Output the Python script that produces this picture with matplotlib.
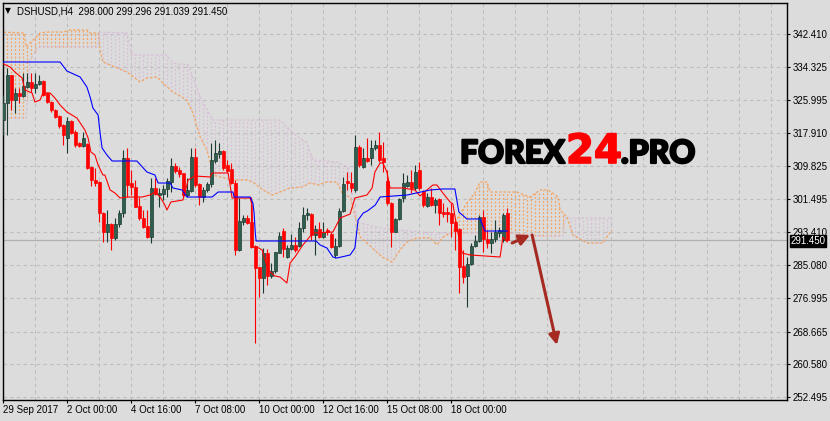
"""DSHUSD H4 candles with Ichimoku lines, MT4 style."""

import numpy as np
import matplotlib
matplotlib.use("Agg")
from matplotlib import pyplot as plt
from matplotlib import patheffects
from matplotlib.transforms import blended_transform_factory

plt.rcParams['font.family'] = ['Liberation Sans', 'DejaVu Sans']

# ---- candles (bar index 0 .. 126), prices ----
opens = [321.11, 325.32, 332.25, 326.06, 327.79, 327.05, 329.28, 330.52, 329.03, 330.02,
         330.77, 327.79, 325.56, 323.58, 322.10, 319.87, 316.65, 320.86, 318.13, 315.41,
         314.67, 315.16, 309.47, 306.25, 305.75, 298.07, 293.36, 295.35, 291.88, 295.35,
         298.07, 311.70, 305.50, 304.51, 299.80, 296.83, 294.85, 292.13, 304.26, 302.53,
         302.78, 304.02, 305.75, 309.71, 308.72, 307.98, 302.53, 303.52, 311.94, 305.25,
         302.03, 303.77, 305.25, 310.95, 312.69, 313.43, 309.96, 308.97, 305.50, 288.91,
         295.84, 296.83, 295.84, 289.90, 284.69, 281.97, 288.16, 282.46, 283.70, 288.16,
         293.61, 287.17, 289.15, 290.15, 289.90, 294.36, 297.57, 297.82, 292.62, 294.11,
         292.13, 293.86, 292.87, 287.67, 289.90, 298.56, 306.00, 305.50, 303.77, 314.42,
         309.47, 311.70, 311.70, 314.17, 314.91, 311.70, 306.00, 300.55, 293.36, 296.59,
         301.78, 304.76, 305.75, 304.26, 308.72, 303.27, 299.80, 302.03, 300.05, 301.54,
         298.32, 298.32, 298.07, 295.84, 294.11, 284.94, 282.46, 285.44, 289.90, 291.14,
         297.08, 291.63, 290.64, 291.63, 293.12, 291.38, 298.000]
highs = [327.30, 333.99, 332.25, 329.03, 329.03, 332.75, 332.75, 332.75, 332.75, 332.25,
         331.01, 328.04, 325.81, 323.83, 322.34, 320.12, 321.85, 321.11, 318.63, 315.66,
         318.13, 315.41, 309.71, 309.22, 306.00, 298.32, 298.81, 295.59, 296.83, 298.81,
         313.68, 314.17, 308.72, 306.25, 302.03, 298.81, 298.81, 306.74, 306.74, 304.26,
         305.01, 306.74, 311.70, 310.45, 309.47, 307.98, 306.74, 314.17, 314.17, 305.50,
         304.51, 305.75, 315.41, 316.15, 315.41, 313.68, 311.20, 310.45, 306.25, 301.78,
         297.57, 297.57, 302.03, 290.15, 284.69, 289.40, 289.15, 285.68, 288.41, 293.36,
         294.36, 290.15, 292.87, 292.13, 295.84, 299.56, 299.31, 298.07, 295.10, 295.84,
         295.84, 294.36, 293.36, 291.88, 299.31, 306.99, 308.23, 308.23, 317.39, 314.91,
         314.17, 316.65, 316.15, 316.15, 318.13, 315.66, 308.72, 300.79, 296.83, 301.78,
         307.98, 307.48, 308.72, 309.96, 310.70, 303.77, 303.02, 304.26, 301.78, 301.78,
         300.55, 299.56, 300.55, 296.34, 294.36, 288.91, 287.17, 290.64, 292.62, 297.57,
         298.81, 293.86, 293.36, 296.34, 294.60, 298.07, 299.296]
lows = [317.39, 317.39, 323.58, 322.84, 325.32, 326.80, 329.03, 328.04, 327.79, 329.78,
        327.05, 325.32, 323.09, 321.60, 319.12, 314.91, 312.93, 317.64, 314.42, 314.42,
        314.42, 308.97, 304.76, 304.76, 295.84, 290.89, 290.89, 288.91, 291.38, 294.60,
        297.08, 302.03, 302.53, 299.56, 296.34, 294.36, 291.88, 290.64, 302.53, 299.56,
        301.29, 302.03, 303.27, 307.98, 306.99, 302.03, 302.03, 303.27, 304.51, 300.05,
        300.79, 303.27, 304.51, 310.45, 311.70, 308.72, 308.23, 305.25, 287.67, 288.66,
        295.10, 295.35, 289.40, 265.87, 277.26, 278.25, 280.24, 281.97, 283.21, 288.16,
        287.17, 286.92, 288.91, 288.41, 289.65, 293.36, 296.34, 291.38, 287.67, 291.88,
        291.88, 292.62, 289.40, 286.92, 289.65, 298.32, 303.77, 303.27, 303.27, 309.47,
        309.22, 310.70, 309.96, 313.68, 310.70, 308.23, 300.05, 289.65, 293.36, 296.34,
        300.79, 304.51, 303.02, 303.77, 303.77, 299.56, 299.56, 299.80, 298.07, 295.10,
        297.08, 295.84, 292.13, 288.91, 278.25, 280.73, 274.79, 285.19, 289.65, 290.89,
        288.41, 289.40, 288.16, 290.89, 292.13, 290.89, 291.039]
closes = [325.32, 332.25, 326.06, 327.79, 327.05, 329.53, 330.52, 329.03, 330.02, 330.77,
          327.30, 325.56, 323.58, 321.85, 319.62, 317.39, 320.86, 317.89, 314.91, 314.67,
          316.65, 309.22, 306.25, 305.50, 298.07, 293.36, 295.35, 291.88, 295.35, 298.07,
          311.70, 305.01, 304.51, 299.56, 296.83, 294.60, 292.13, 304.26, 302.78, 303.02,
          304.02, 306.00, 309.71, 308.47, 307.73, 302.53, 303.77, 311.94, 305.01, 302.03,
          303.77, 305.25, 311.20, 312.93, 313.43, 309.22, 308.47, 305.50, 288.91, 296.09,
          296.83, 295.59, 289.65, 284.45, 281.97, 288.16, 282.46, 283.70, 288.41, 292.37,
          289.15, 289.40, 290.15, 288.91, 294.36, 297.57, 298.07, 292.62, 294.11, 292.13,
          293.36, 293.36, 289.65, 289.90, 298.56, 305.25, 305.50, 304.26, 314.42, 309.96,
          311.70, 310.95, 314.17, 314.91, 311.20, 310.70, 300.55, 293.36, 296.59, 301.54,
          305.50, 305.75, 304.26, 308.23, 304.26, 300.05, 302.03, 300.05, 301.29, 298.07,
          297.82, 297.82, 295.59, 293.61, 284.69, 282.22, 285.44, 289.90, 291.14, 297.08,
          291.63, 290.64, 291.63, 293.36, 293.86, 297.57, 291.450]

# ---- Ichimoku lines, breakpoints (bar index, price) ----
tenkan_x = [-1, 1.7, 2.9, 4.7, 5.4, 7.2, 7.9, 9.2, 9.9, 11.7, 12.9, 14.2, 15.9, 18.4, 20.4,
            21.2, 21.9, 22.9, 23.7, 24.9, 25.4, 26.7, 27.9, 29.2, 30.9, 34.7, 36.7, 37.9,
            39.2, 40.4, 40.9, 41.9, 44.9, 45.4, 46.2, 47.9, 51.7, 52.2, 56.2, 56.7, 57.2,
            61.7, 62.2, 62.4, 63.4, 64.7, 66.2, 67.9, 69.2, 70.9, 71.7, 72.9, 74.9, 77.4,
            82.4, 84.2, 86.7, 87.9, 90.9, 92.2, 92.9, 94.2, 94.9, 95.9, 96.7, 99.9, 102.9,
            104.2, 105.9, 107.4, 108.4, 109.9, 111.7, 112.4, 113.4, 114.7, 116.7, 124.2,
            124.9, 126]
tenkan_y = [335.47, 334.23, 332.99, 331.51, 328.54, 327.79, 325.56, 326.06, 327.79, 327.79,
            326.56, 324.82, 323.09, 321.60, 318.63, 316.65, 313.18, 312.44, 309.96, 307.48,
            307.48, 303.77, 303.02, 301.78, 302.03, 302.03, 302.53, 303.27, 302.03, 300.05,
            298.81, 300.79, 301.29, 303.02, 306.25, 307.23, 306.99, 307.98, 307.98, 305.01,
            301.78, 301.78, 300.05, 289.65, 289.65, 288.91, 283.95, 282.46, 282.22, 280.73,
            285.68, 287.17, 290.15, 293.12, 293.36, 296.83, 297.82, 301.78, 302.53, 304.26,
            308.23, 310.45, 310.45, 308.23, 304.26, 304.26, 303.77, 302.28, 303.77, 305.01,
            305.01, 303.02, 300.79, 300.30, 294.36, 288.16, 287.67, 287.17, 292.13, 290.89]
kijun_x = [-1, 14.2, 15.9, 19.2, 20.9, 21.7, 22.4, 23.7, 24.2, 24.7, 25.9, 27.2, 33.4, 35.9,
           37.9, 38.7, 41.7, 42.4, 44.7, 45.9, 52.2, 53.7, 57.4, 57.7, 61.7, 62.4, 62.7,
           63.0, 63.2, 78.2, 79.2, 80.9, 82.4, 83.4, 86.7, 87.9, 88.7, 90.0, 91.0, 93.0,
           94.2, 101.0, 106.7, 109.9, 112.9, 113.9, 115.9, 119.2, 120.4, 126]
kijun_y = [335.47, 335.47, 333.24, 331.76, 329.28, 326.80, 324.08, 322.34, 317.89, 314.17,
           312.44, 310.95, 310.95, 308.23, 307.48, 305.50, 305.50, 304.26, 303.77, 302.03,
           302.03, 303.27, 303.27, 302.03, 302.03, 300.55, 298.07, 293.12, 291.14, 291.14,
           290.15, 289.40, 287.17, 286.92, 287.67, 289.40, 296.34, 298.07, 298.56, 300.05,
           302.03, 302.53, 303.77, 304.02, 304.02, 298.32, 296.59, 296.59, 293.61, 293.61]
span_a_x = [-1, 5.2, 5.7, 9.2, 10.9, 14.9, 16.7, 20.9, 21.7, 23.7, 24.2, 24.9, 30.9, 34.2,
            35.9, 38.4, 39.9, 42.4, 45.9, 47.4, 49.2, 50.9, 51.7, 52.4, 54.2, 57.4, 60.9,
            62.4, 64.9, 67.2, 69.2, 71.7, 74.7, 76.7, 78.7, 80.9, 83.4, 84.9, 86.7, 87.9,
            89.2, 90.9, 94.7, 97.2, 99.2, 100.9, 103.4, 106.7, 108.4, 109.7, 111.2, 112.4,
            113.7, 115.9, 117.9, 119.2, 120.9, 121.7, 126.7, 128.4, 131.7, 134.2, 136.2,
            138.7, 139.2, 140.9, 142.4, 145.9, 149.9, 150.9, 152.2]
span_a_y = [342.90, 342.66, 339.19, 342.66, 342.90, 342.90, 343.40, 343.40, 342.66, 342.66,
            338.45, 335.47, 332.99, 330.52, 331.51, 331.76, 330.27, 328.04, 326.06, 322.84,
            316.90, 313.68, 310.70, 307.48, 306.99, 306.25, 306.25, 305.75, 303.77, 302.53,
            303.27, 304.26, 304.51, 305.50, 305.01, 305.75, 305.75, 302.53, 302.03, 297.57,
            292.13, 290.64, 287.17, 285.93, 288.91, 290.89, 291.88, 291.88, 290.15, 291.88,
            292.87, 293.12, 297.08, 300.55, 303.02, 305.75, 305.75, 303.27, 303.27, 303.27,
            302.03, 303.77, 303.77, 302.03, 298.81, 297.08, 292.62, 290.64, 290.64, 292.13,
            293.86]
span_b_x = [-1, 5.7, 6.7, 8.7, 23.7, 24.0, 30.9, 32.2, 40.9, 42.4, 46.2, 49.2, 52.4, 69.2,
            72.4, 75.9, 77.4, 83.4, 86.2, 88.4, 94.2, 104.2, 112.4, 125.9, 134.2, 139.9,
            140.4, 152.2]
span_b_y = [321.60, 321.60, 335.97, 339.19, 339.19, 342.90, 342.66, 337.21, 337.21, 335.22,
            334.73, 326.80, 321.11, 321.11, 317.89, 315.41, 311.20, 310.70, 309.47, 295.84,
            294.36, 293.36, 293.12, 293.12, 292.37, 292.37, 296.83, 296.83]

# ---- axis labels ----
price_ticks = [342.410, 334.325, 325.995, 317.910, 309.825, 301.495,
               293.410, 285.080, 276.995, 268.665, 260.580, 252.495]
date_ticks = [0, 16, 32, 48, 64, 80, 96, 112]
date_labels = ['29 Sep 2017', '2 Oct 00:00', '4 Oct 16:00', '7 Oct 08:00',
               '10 Oct 00:00', '12 Oct 16:00', '15 Oct 08:00', '18 Oct 00:00']
last_price = 291.450
header = 'DSHUSD,H4  298.000 299.296 291.039 291.450'

BG = '#dcdcdc'
BULL = '#2f5f4f'
BULL_EDGE = '#1d3a31'
BEAR = '#ff0000'
SANDY = '#f4a460'
THISTLE = '#d8bfd8'

W, H = 830, 421
fig = plt.figure(figsize=(W / 100, H / 100), dpi=100, facecolor=BG)
ax = fig.add_axes([2.7 / W, 21 / H, 784.6 / W, 397.3 / H], facecolor=BG)
ax.set_xlim(-0.15, 196.0)
ax.set_ylim(251.75, 350.16)

# grid
for gx in range(8, 196, 8):
    ax.axvline(gx, color='#bdbdbd', lw=0.8, ls=(0, (3, 3)), zorder=0.5)
for gy in price_ticks:
    ax.axhline(gy, color='#bdbdbd', lw=0.8, ls=(0, (3, 3)), zorder=0.5)
ax.axhline(last_price, color='#b0b0b0', lw=0.9, zorder=0.6)

# cloud: dotted vertical strokes for each bar, colour by which span is on top
cloud_bars = np.arange(0, 153)
a_vals = np.interp(cloud_bars, span_a_x, span_a_y)
b_vals = np.interp(cloud_bars, span_b_x, span_b_y)
up = a_vals >= b_vals
ax.vlines(cloud_bars[up], b_vals[up], a_vals[up], colors=SANDY, lw=0.9,
          linestyles=(0, (1.5, 1.5)), zorder=1)
ax.vlines(cloud_bars[~up], a_vals[~up], b_vals[~up], colors=THISTLE, lw=0.9,
          linestyles=(0, (1.5, 1.5)), zorder=1)
ax.plot(span_a_x, span_a_y, color=SANDY, lw=0.9, ls=(0, (2, 1.5)), zorder=1.2)
ax.plot(span_b_x, span_b_y, color=THISTLE, lw=0.9, ls=(0, (2, 1.5)), zorder=1.2)

# candles
o = np.array(opens)
h = np.array(highs)
l = np.array(lows)
c = np.array(closes)
idx = np.arange(len(o))
bull = c >= o
ax.vlines(idx[bull], l[bull], h[bull], colors=BULL_EDGE, lw=0.8, zorder=3)
ax.vlines(idx[~bull], l[~bull], h[~bull], colors=BEAR, lw=0.8, zorder=3)
ax.bar(idx[bull], (c - o)[bull], bottom=o[bull], width=0.7, color=BULL,
       edgecolor=BULL_EDGE, lw=0.5, zorder=3.2)
ax.bar(idx[~bull], (o - c)[~bull], bottom=c[~bull], width=0.7, color=BEAR,
       edgecolor=BEAR, lw=0.5, zorder=3.2)

# tenkan / kijun
ax.plot(tenkan_x, tenkan_y, color='#ff0000', lw=0.8, zorder=4)
ax.plot(kijun_x, kijun_y, color='#0000ff', lw=0.8, zorder=4)

# forecast arrows
arrow_kw = dict(arrowstyle='-|>', color='#a52a22', lw=2.2, mutation_scale=16,
                shrinkA=0, shrinkB=0)
ax.annotate('', xy=(131.7, 292.62), xytext=(127.2, 290.64), arrowprops=arrow_kw, zorder=5)
ax.annotate('', xy=(138.4, 265.37), xytext=(132.2, 292.62), arrowprops=arrow_kw, zorder=5)

# axes look
for side in ['left', 'right', 'top', 'bottom']:
    ax.spines[side].set_color('black')
    ax.spines[side].set_linewidth(1.0)
ax.yaxis.tick_right()
ax.set_yticks(price_ticks)
ax.set_yticklabels([f'{v:.3f}' for v in price_ticks])
ax.set_xticks(date_ticks)
ax.set_xticklabels(date_labels)
for lbl in ax.get_xticklabels():
    lbl.set_horizontalalignment('left')
ax.tick_params(axis='y', direction='out', length=2.5, width=0.8, pad=1.5,
               labelsize=7, colors='black')
ax.tick_params(axis='x', direction='out', length=2.5, width=0.8, pad=1.0,
               labelsize=7, colors='black')

# last price tag
trans = blended_transform_factory(ax.transAxes, ax.transData)
ax.text(1.004, last_price - 0.25, f'{last_price:.3f}', transform=trans, color='white',
        fontsize=7, va='center', ha='left', clip_on=False, zorder=10,
        bbox=dict(boxstyle='square,pad=0.08', fc='black', ec='black'))

# header
fig.text(5 / W, 1 - 13 / H, '\u25bc', fontsize=5.5, va='baseline',
         family=['DejaVu Sans'])
fig.text(17 / W, 1 - 14 / H, header, fontsize=7, va='baseline')

# watermark
base = 1 - 163 / H
heavy = [patheffects.withStroke(linewidth=1.6, foreground='black')]
fig.text(460 / W, base, 'FOREX', fontsize=23, fontweight='black',
         family=['Lato', 'DejaVu Sans'], va='baseline', color='black',
         path_effects=heavy)
fig.text(566 / W, base, '24', fontsize=29, fontweight='bold',
         family=['DejaVu Sans'], va='baseline', color='#ff0000',
         path_effects=[patheffects.withStroke(linewidth=1.2, foreground='#ff0000')])
fig.text(621 / W, base, '.PRO', fontsize=23, fontweight='black',
         family=['Lato', 'DejaVu Sans'], va='baseline', color='black',
         path_effects=heavy)

fig.savefig('out.png', dpi=100, facecolor=BG)
